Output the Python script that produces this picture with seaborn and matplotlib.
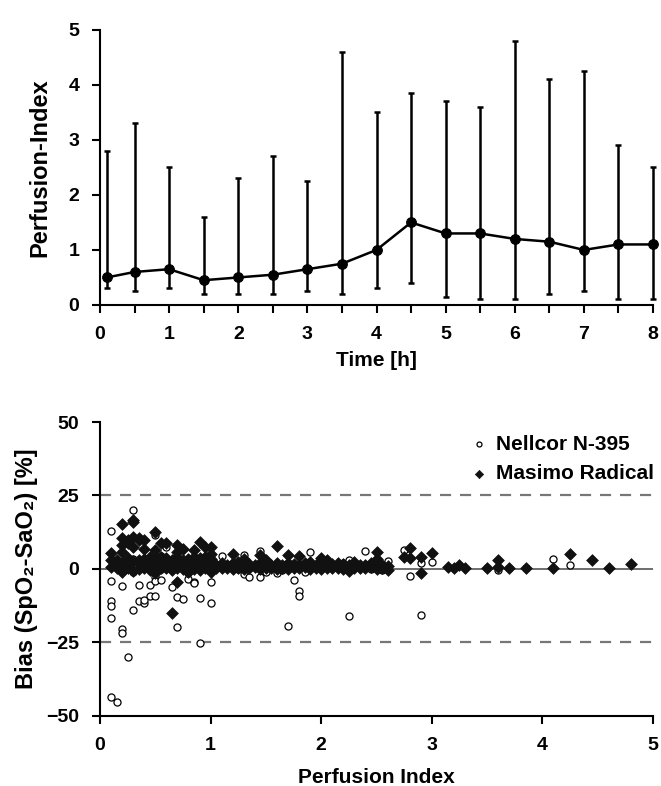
import numpy as np
import pandas as pd
import matplotlib.pyplot as plt
import seaborn as sns

sns.set_style('ticks')
plt.rcParams['font.family'] = ['Liberation Sans Narrow', 'Liberation Sans', 'DejaVu Sans']
plt.rcParams['font.weight'] = 'bold'
plt.rcParams['text.color'] = 'black'
plt.rcParams['axes.labelcolor'] = 'black'
plt.rcParams['xtick.color'] = 'black'
plt.rcParams['ytick.color'] = 'black'
plt.rcParams['axes.edgecolor'] = 'black'

#%% datos panel superior: perfusion index en el tiempo (mediana y rango)
time_h = [0.1, 0.5, 1, 1.5, 2, 2.5, 3, 3.5, 4, 4.5, 5, 5.5, 6, 6.5, 7, 7.5, 8]
pi_median = [0.5, 0.6, 0.65, 0.45, 0.5, 0.55, 0.65, 0.75, 1.0, 1.5, 1.3, 1.3, 1.2, 1.15, 1.0, 1.1, 1.1]
pi_low = [0.3, 0.25, 0.3, 0.2, 0.2, 0.2, 0.25, 0.2, 0.3, 0.4, 0.15, 0.1, 0.1, 0.2, 0.25, 0.1, 0.1]
pi_high = [2.8, 3.3, 2.5, 1.6, 2.3, 2.7, 2.25, 4.6, 3.5, 3.85, 3.7, 3.6, 4.8, 4.1, 4.25, 2.9, 2.5]

#%% datos panel inferior: bias frente a perfusion index
nellcor_pi = [0.1, 0.1, 0.1, 0.1, 0.1, 0.1, 0.15, 0.2, 0.2, 0.2, 0.25, 0.3, 0.3, 0.3, 0.3,
              0.35, 0.35, 0.4, 0.4, 0.45, 0.45, 0.5, 0.5, 0.5, 0.5, 0.55, 0.55, 0.6,
              0.65, 0.7, 0.7, 0.75, 0.8, 0.8, 0.85, 0.85, 0.9, 0.9, 0.9, 1.0, 1.0, 1.0,
              1.1, 1.3, 1.3, 1.35, 1.45, 1.45, 1.5, 1.6, 1.7, 1.75, 1.8, 1.8, 1.85, 1.9,
              2.05, 2.2, 2.25, 2.25, 2.4, 2.6, 2.75, 2.8, 2.9, 2.9, 3.0, 3.6, 3.7, 4.1, 4.25,
              0.2, 0.3, 0.55, 0.7, 1.1, 1.25, 1.4, 1.55, 1.65, 1.95, 2.1, 2.3, 2.45, 2.55,
              3.2, 3.5, 3.85]
nellcor_bias = [13, -4, -10.8, -12.5, -16.8, -43.7, -45.2, -20.5, -21.9, -5.7, -30, 20, -14, 3.3, -1,
                -5.5, -10.8, -11.5, -10.5, -5.5, -9.2, -9.2, 11.5, -2.6, -4, -3.8, 4.4, 7.4,
                -6, -9.4, -19.7, -10.3, -3.4, -1.2, -4.5, -4.9, -9.8, -25.3, 2.5, -4.5, -11.7, 3,
                4.5, 4.8, -1.7, -2.6, -2.6, 6, -1, -1.5, -19.4, -3.7, -7.5, -9.2, -1, 5.9,
                2.5, 2, -15.9, 3, 6.1, 2.8, 6.5, -2.3, -15.7, 2, 2.5, -0.3, 0.2, 3.5, 1.4,
                -0.5, 1.5, 0, 1, 0.5, 0, 1, 0.5, -0.5, 1, 0.5, 1.5, 0, -0.5,
                0.5, 0.3, 0.5]

masimo_pi_out = [0.1, 0.1, 0.1, 0.2, 0.2, 0.2, 0.2, 0.25, 0.25, 0.3, 0.3, 0.3, 0.3, 0.35, 0.35,
                 0.4, 0.4, 0.45, 0.5, 0.5, 0.55, 0.6, 0.65, 0.7, 0.7, 0.7, 0.75, 0.85, 0.9, 0.95,
                 1.0, 1.2, 1.45, 1.6, 1.7, 1.8, 2.0, 2.5, 2.75, 2.8, 2.8, 2.9, 2.9, 3.0, 3.15,
                 3.2, 3.25, 3.3, 3.5, 3.6, 3.6, 3.7, 3.85, 4.1, 4.25, 4.45, 4.6, 4.8,
                 0.5, 0.5, 0.7, 0.7, 0.85, 0.95, 1.0, 1.0, 0.65, 0.55, 0.4, 0.25, 1.3, 1.5,
                 1.25, 2.5, 2.45, 2.05, 2.3, 2.15, 1.9, 0.8,
                 0.15, 0.25, 0.35, 0.45, 0.6, 0.75, 0.9, 0.2, 0.3, 0.5, 0.8, 1.0]
masimo_bias_out = [5.6, 3, 0.8, 15.3, 10.5, 8.2, 5.7, 9.7, 8.8, 16.7, 16, 11, 7.6, 10.5, 9.9,
                   9.9, 6.8, 4.2, 12.7, 6.5, 8.8, 8.8, -14.9, 8.2, -4.5, 5.9, 6.8, 6.5, 9.3, 7.6,
                   7.6, 5.1, 4.8, 7.8, 4.8, 4.5, 3.6, 5.7, 4.2, 7, 3.6, 4.2, -1.2, 5.3, 0.6,
                   0.5, 1.4, 0.3, 0.3, 3, 0.8, 0.4, 0.5, 0.5, 5.1, 3, 0.5, 1.8,
                   4, 2.5, 4, 3, 4, 4, 5, 3.5, 3, 4, 3.5, 2.5, 3.5, 3,
                   2.5, 3.5, 2, 3, 2.5, 2.2, 2.5, 3.5,
                   3.2, 3.8, 3.0, 3.4, 3.6, 3.1, 3.7, -1.0, -0.8, -1.2, -0.9, -1.0]

band_pi = [0.15, 0.2, 0.25, 0.3, 0.35, 0.4, 0.45, 0.5, 0.55, 0.6, 0.65, 0.7, 0.75, 0.8, 0.85,
           0.9, 0.95, 1.0, 1.05, 1.1, 1.15, 1.2, 1.25, 1.3, 1.35, 1.4, 1.45, 1.5, 1.55, 1.6,
           1.65, 1.7, 1.75, 1.8, 1.85, 1.9, 1.95, 2.0, 2.05, 2.1, 2.15, 2.2, 2.25, 2.3, 2.35,
           2.4, 2.45, 2.5, 2.55, 2.6]
band_low = [0.2, 0.0, 0.3, -0.5, 0.1, 0.4, -0.3, 0.0, 0.5, 0.2, -0.4, 0.3, 0.0, 0.6, 0.1,
            -0.2, 0.4, 0.0, 0.3, 0.2, 0.5, 0.0, 0.4, 0.1, 0.3, 0.6, 0.0, 0.2, 0.5, 0.1,
            0.3, 0.0, 0.4, 0.2, 0.6, 0.1, 0.3, 0.0, 0.5, 0.2, 0.4, 0.1, -0.8, 0.3, 0.5,
            0.2, 0.6, 0.0, 0.3, -0.5]
band_high = [1.8, 2.2, 1.5, 2.6, 2.0, 1.7, 2.4, 2.9, 1.9, 2.3, 1.6, 2.8, 2.1, 1.8, 2.5,
             2.0, 2.7, 2.2, 1.5, 1.9, 1.4, 2.1, 1.6, 2.3, 1.7, 1.3, 2.0, 1.8, 1.5, 2.2,
             1.4, 1.9, 1.6, 1.3, 2.0, 1.7, 1.5, 2.4, 1.3, 1.8, 1.2, 1.6, 1.4, 1.9, 1.2,
             1.5, 1.1, 1.7, 1.3, 1.0]

masimo_pi = masimo_pi_out + band_pi + band_pi
masimo_bias = masimo_bias_out + band_low + band_high

df = pd.concat([
    pd.DataFrame({'pi': nellcor_pi, 'bias': nellcor_bias, 'device': 'Nellcor N-395'}),
    pd.DataFrame({'pi': masimo_pi, 'bias': masimo_bias, 'device': 'Masimo Radical'}),
], ignore_index=True)

#%% figura
fig = plt.figure(figsize=(6.61, 7.86), dpi=100)
ax1 = fig.add_axes([0.1513, 0.612, 0.8366, 0.350])
ax2 = fig.add_axes([0.1513, 0.0891, 0.8366, 0.374])

# panel superior
med = np.array(pi_median)
yerr = [med - np.array(pi_low), np.array(pi_high) - med]
ax1.errorbar(time_h, pi_median, yerr=yerr, fmt='none', ecolor='black',
             elinewidth=1.8, capsize=2.5, capthick=1.8, clip_on=False)
sns.lineplot(x=time_h, y=pi_median, ax=ax1, color='black', lw=1.8, marker='o',
             markersize=7, markeredgecolor='black', clip_on=False)
ax1.set_xlim(0, 8)
ax1.set_ylim(0, 5)
ax1.set_xticks(range(0, 9))
ax1.set_xticks(np.arange(0.5, 8, 1), minor=True)
ax1.set_yticks(range(0, 6))
ax1.set_xlabel('Time [h]', fontsize=15, fontweight='bold', labelpad=6)
ax1.set_ylabel('Perfusion-Index', fontsize=17, fontweight='bold', labelpad=12)

# panel inferior
ax2.axhline(0, color='#555555', lw=1.2, zorder=1)
ax2.axhline(25, color='#777777', lw=1.6, ls=(0, (5, 4)), zorder=1)
ax2.axhline(-25, color='#777777', lw=1.6, ls=(0, (5, 4)), zorder=1)
sns.scatterplot(data=df[df['device'] == 'Nellcor N-395'], x='pi', y='bias', ax=ax2,
                marker='o', s=26, facecolor='white', edgecolor='black', linewidth=0.9,
                zorder=3, label='Nellcor N-395')
sns.scatterplot(data=df[df['device'] == 'Masimo Radical'], x='pi', y='bias', ax=ax2,
                marker='D', s=36, color='#111111', edgecolor='#111111', linewidth=0.5,
                zorder=4, label='Masimo Radical')
ax2.set_xlim(0, 5)
ax2.set_ylim(-50, 50)
ax2.set_xticks(range(0, 6))
ax2.set_yticks([-50, -25, 0, 25, 50])
ax2.set_xlabel('Perfusion Index', fontsize=15, fontweight='bold', labelpad=10)
ax2.set_ylabel('Bias (SpO₂-SaO₂) [%]', fontsize=17, fontweight='bold', labelpad=6)

leg = ax2.legend(loc='upper right', bbox_to_anchor=(1.035, 1.02), frameon=False,
                 fontsize=15, markerscale=0.7, handletextpad=0.3, handlelength=1.0,
                 labelspacing=0.5)
for t in leg.get_texts():
    t.set_fontweight('bold')

for ax in (ax1, ax2):
    sns.despine(ax=ax)
    ax.spines['left'].set_linewidth(1.5)
    ax.spines['bottom'].set_linewidth(1.5)
    ax.tick_params(axis='both', which='both', direction='out', length=6, width=1.5,
                   labelsize=14, pad=9)
    for lab in ax.get_xticklabels() + ax.get_yticklabels():
        lab.set_fontweight('bold')

fig.savefig('out.png', dpi=100)
